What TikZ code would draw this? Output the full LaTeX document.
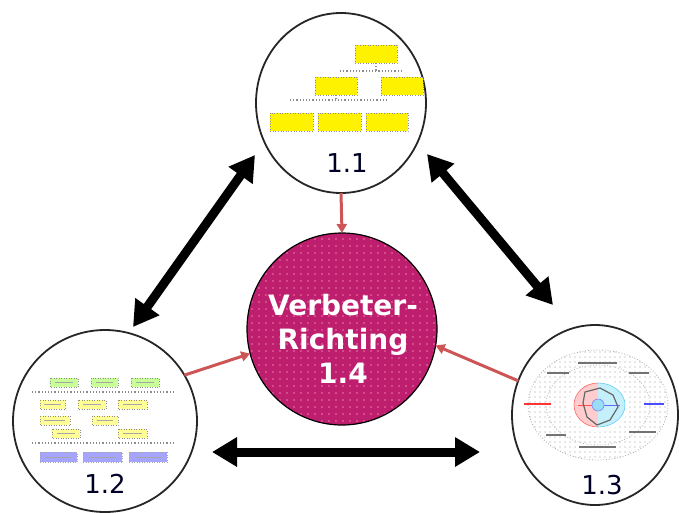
\documentclass[tikz,border=0pt]{standalone}
\usepackage{fontspec}
\setmainfont{DejaVu Sans}
\usetikzlibrary{shapes.geometric,arrows.meta,patterns.meta}
\definecolor{mag}{RGB}{190,30,110}
\definecolor{dotpink}{RGB}{240,120,170}
\definecolor{arrred}{RGB}{205,85,85}
\definecolor{lgreen}{RGB}{200,255,150}
\definecolor{lyellow}{RGB}{255,255,150}
\definecolor{lblue}{RGB}{165,165,255}
\definecolor{lred}{RGB}{255,205,205}
\definecolor{lcyan}{RGB}{195,240,250}
\tikzset{
  bubble/.style={ellipse, draw=black!85, line width=1.8pt, fill=white, inner sep=0pt, outer sep=0pt},
  numlabel/.style={font=\fontsize{26}{30}\selectfont, text=black!85!blue, inner sep=0pt},
  bigarrow/.style={line width=9pt, {Triangle[length=25pt,width=28pt]}-{Triangle[length=25pt,width=28pt]}},
  redarrow/.style={draw=arrred, line width=3pt, -{Triangle[length=9pt,width=10pt]}},
  ybox/.style={fill=yellow, draw=black!45, dotted, line width=0.6pt},
  gbox/.style={fill=lgreen, draw=black!45, dotted, line width=0.5pt},
  lybox/.style={fill=lyellow, draw=black!45, dotted, line width=0.5pt},
  bbox/.style={fill=lblue, draw=black!35, dotted, line width=0.5pt},
  conn/.style={draw=black!45, dotted, line width=1.2pt},
  tinytext/.style={draw=black!55, line width=1.6pt},
}
\begin{document}
\begin{tikzpicture}[x=1pt,y=-1pt]
\useasboundingbox (0,0) rectangle (679,512);

% bubbles
\node[bubble, minimum width=170pt, minimum height=180pt] (n11) at (341,103) {};
\node[bubble, minimum width=184pt, minimum height=182pt] (n12) at (105,421) {};
\node[bubble, minimum width=166pt, minimum height=180pt] (n13) at (595,415) {};
\node[ellipse, draw=black, line width=1.2pt, inner sep=0pt, outer sep=0pt,
      minimum width=190pt, minimum height=192pt,
      preaction={fill=mag}, pattern={Dots[radius=0.9pt,distance=7pt]}, pattern color=dotpink] (n14) at (342,329) {};
\node[text=white, font=\bfseries\fontsize{28}{34}\selectfont, align=center, inner sep=0pt] (t14) at (343,339) {Verbeter-\\Richting\\1.4};

% --- miniature 1.1: org chart
\draw[conn] (340,71) -- (403,71);
\draw[conn] (376,63) -- (376,71);
\draw[conn] (290,100) -- (387,100);
\draw[conn] (336,95) -- (336,100);
\draw[ybox] (355,45) rectangle (397,63);
\draw[ybox] (315,77) rectangle (357,95);
\draw[ybox] (381,77) rectangle (423,95);
\draw[ybox] (270,113) rectangle (313,131);
\draw[ybox] (318,113) rectangle (361,131);
\draw[ybox] (366,113) rectangle (408,131);
\node[numlabel] (l11) at (347,163) {1.1};

% --- miniature 1.2
\draw[conn] (32,392) -- (173,392);
\draw[conn] (32,443) -- (173,443);
\draw[gbox] (50,378) rectangle (78,387);
\draw[gbox] (91,378) rectangle (118,387);
\draw[gbox] (131,378) rectangle (159,387);
\draw[lybox] (40,400) rectangle (65,409);
\draw[lybox] (78,400) rectangle (106,409);
\draw[lybox] (118,400) rectangle (147,409);
\draw[lybox] (40,416) rectangle (70,425);
\draw[lybox] (92,416) rectangle (118,425);
\draw[lybox] (52,429) rectangle (80,438);
\draw[lybox] (118,429) rectangle (147,438);
\draw[bbox] (40,452) rectangle (77,462);
\draw[bbox] (83,452) rectangle (122,462);
\draw[bbox] (129,452) rectangle (167,462);
\foreach \xa/\xb/\yy in {55/73/382.5, 96/113/382.5, 136/154/382.5,
  44/61/404.5, 83/101/404.5, 123/142/404.5, 44/65/420.5, 97/113/420.5,
  57/75/433.5, 123/142/433.5, 46/71/457, 89/116/457, 135/161/457}
  \draw[black!35, line width=1pt] (\xa,\yy) -- (\xb,\yy);
\node[numlabel] (l12) at (105,484) {1.2};

% --- miniature 1.3: radar chart
\path[pattern={Dots[radius=0.6pt,distance=5pt]}, pattern color=black!40] (598,405) ellipse [x radius=70, y radius=55];
\draw[black!35, dotted, line width=0.8pt] (598,405) ellipse [x radius=70, y radius=55];
\draw[black!30, dotted, line width=0.8pt] (598,405) ellipse [x radius=52, y radius=40];
\fill[white] (598,405) ellipse [x radius=30, y radius=27];
\begin{scope}
  \clip (570,378) rectangle (598,432);
  \fill[lred] (598,405) ellipse [x radius=24, y radius=22];
  \draw[red!60, line width=0.6pt] (598,405) ellipse [x radius=24, y radius=22];
\end{scope}
\begin{scope}
  \clip (598,378) rectangle (630,432);
  \fill[lcyan] (598,405) ellipse [x radius=27, y radius=22];
  \draw[cyan!60, line width=0.6pt] (598,405) ellipse [x radius=27, y radius=22];
\end{scope}
\draw[red!70, line width=0.8pt] (578,405) -- (598,405);
\draw[blue!60, line width=0.8pt] (598,405) -- (620,405);
\draw[black!60, line width=1.2pt] (585,392) -- (600,388) -- (613,395) -- (618,407) -- (610,420) -- (597,425) -- (587,417) -- (583,403) -- cycle;
\fill[cyan!40] (598,405) circle (6);
\draw[blue!50, line width=0.6pt] (598,405) circle (6);
\draw[tinytext] (578,363) -- (617,363);
\draw[tinytext] (547,373) -- (569,373);
\draw[tinytext] (629,373) -- (649,373);
\draw[tinytext, draw=red!80] (524,404) -- (551,404);
\draw[tinytext, draw=blue!70] (644,404) -- (664,404);
\draw[tinytext] (546,435) -- (566,435);
\draw[tinytext] (629,432) -- (656,432);
\draw[tinytext] (579,447) -- (616,447);
\node[numlabel] (l13) at (602,485) {1.3};

% --- connectors
\coordinate (a12) at (133,327);
\coordinate (a11l) at (255,155);
\coordinate (a11r) at (427,154);
\coordinate (a13) at (553,305);
\coordinate (b12) at (212,452);
\coordinate (b13) at (480,452);
\draw[bigarrow] (a12) -- (a11l);
\draw[bigarrow] (a11r) -- (a13);
\draw[bigarrow] (b12) -- (b13);

\draw[redarrow] (n11.south) -- (n14.north);
\draw[redarrow] (n12.30) -- (n14.195);
\draw[redarrow] (n13.156) -- (n14.350);
\end{tikzpicture}
\end{document}
